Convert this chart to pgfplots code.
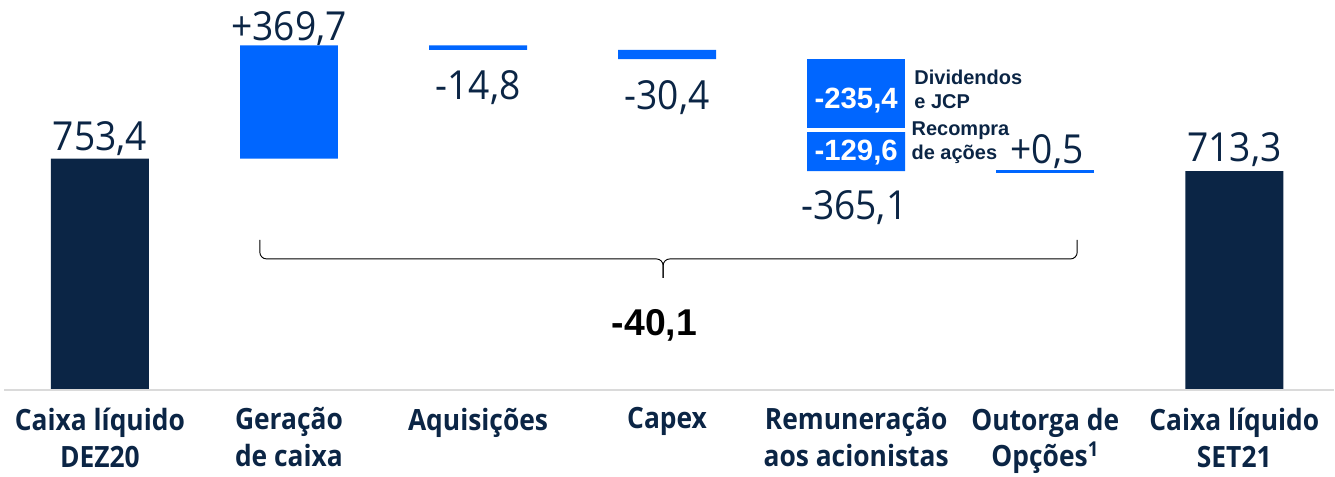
\documentclass[border=0pt]{standalone}
\usepackage{pgfplots}
\pgfplotsset{compat=1.18}
\usepackage{fontspec}
\setmainfont{Open Sans}
\newfontfamily\valfont[FakeStretch=0.93]{Open Sans}
\newfontfamily\xfont[FakeStretch=0.9]{Open Sans}
\newfontfamily\arialfont{Liberation Sans}
\definecolor{navy}{HTML}{0B2545}
\definecolor{cblue}{HTML}{0066FF}
\definecolor{basegray}{HTML}{DADADA}
\pgfplotsset{
  canvas/.style={
    width=1001.25pt, height=357.75pt, scale only axis,
    xmin=-0.5285, xmax=6.5275, ymin=-283.4, ymax=1270.4,
    clip=false,
  }
}
\newcommand{\val}{\valfont\fontsize{30}{36}\selectfont\color{navy}}
\begin{document}
\begin{tikzpicture}
\begin{axis}[canvas,
  ybar stacked, bar width=73.5pt,
  axis line style={draw=none},
  major tick length=0pt,
  ytick=\empty,
  xtick={0,1,2,3,4,5,6},
  xticklabels={{Caixa líquido\\DEZ20},{Geração\\de caixa},{Aquisições},{Capex},{Remuneração\\aos acionistas},{Outorga de\\Opções\textsuperscript{1}},{Caixa líquido\\SET21}},
  xticklabel style={align=center, anchor=north, inner sep=0pt, yshift=52pt,
    font=\xfont\bfseries\fontsize{22}{27.75}\selectfont, text=navy},
]
\draw[basegray, line width=1.5pt] (axis cs:-0.505,0) -- (axis cs:6.5275,0);
% invisible base
\addplot[draw=none, fill=none] coordinates {(0,0) (1,753.4) (2,1108.3) (3,1077.9) (4,712.8) (5,712.8) (6,0)};
% blue changes (buyback as first block of shareholder remuneration)
\addplot[draw=none, fill=cblue] coordinates {(0,0) (1,369.7) (2,14.8) (3,30.4) (4,129.6) (5,0.5) (6,0)};
% dividends and JCP
\addplot[draw=none, fill=cblue] coordinates {(0,0) (1,0) (2,0) (3,0) (4,235.4) (5,0) (6,0)};
% cash totals
\addplot[draw=none, fill=navy] coordinates {(0,753.4) (1,0) (2,0) (3,0) (4,0) (5,0) (6,713.3)};

% value labels
\node[anchor=base, inner sep=0pt] at (axis cs:0,781.8) {\val 753,4};
\node[anchor=base, inner sep=0pt] at (axis cs:1,1140) {\val +369,7};
\node[anchor=base, inner sep=0pt] at (axis cs:2,946) {\val -14,8};
\node[anchor=base, inner sep=0pt] at (axis cs:3,914) {\val -30,4};
\node[anchor=base, inner sep=0pt] at (axis cs:3.99,554) {\val -365,1};
\node[anchor=base, inner sep=0pt] at (axis cs:5.01,739) {\val +0,5};
\node[anchor=base, inner sep=0pt] at (axis cs:6,742.7) {\val 713,3};

\node[anchor=west, inner sep=0pt, align=left, text=navy, font=\arialfont\bfseries\fontsize{15}{18}\selectfont] at (axis cs:4.307,980) {Dividendos\\e JCP};
\node[anchor=west, inner sep=0pt, align=left, text=navy, font=\arialfont\bfseries\fontsize{15}{18}\selectfont] at (axis cs:4.292,804.6) {Recompra\\de ações};

% brace
\draw[black, line width=0.7pt, rounded corners=5pt] (axis cs:0.846,488.6) -- (axis cs:0.846,426.7) -- (axis cs:2.979,426.7) -- (axis cs:2.979,364.8);
\draw[black, line width=0.7pt, rounded corners=5pt] (axis cs:5.169,488.6) -- (axis cs:5.169,426.7) -- (axis cs:2.979,426.7) -- (axis cs:2.979,364.8);
\node[inner sep=0pt, font=\arialfont\bfseries\fontsize{28}{32}\selectfont] at (axis cs:2.933,211.7) {-40,1};
\end{axis}
\begin{axis}[canvas, hide axis]
\addplot[only marks, mark=-, mark size=36.75pt, mark options={draw=cblue, line width=2.2pt}] coordinates {(5,713.05)};
\addplot[only marks, mark=-, mark size=37.5pt, mark options={draw=white, line width=3pt}] coordinates {(4,848)};
% inner labels (drawn over the stacked bars)
\node[inner sep=0pt, text=white, font=\arialfont\bfseries\fontsize{22}{26}\selectfont] at (axis cs:4,944.6) {-235,4};
\node[inner sep=0pt, text=white, font=\arialfont\bfseries\fontsize{22}{26}\selectfont] at (axis cs:4,775) {-129,6};
\end{axis}
\end{tikzpicture}
\end{document}
